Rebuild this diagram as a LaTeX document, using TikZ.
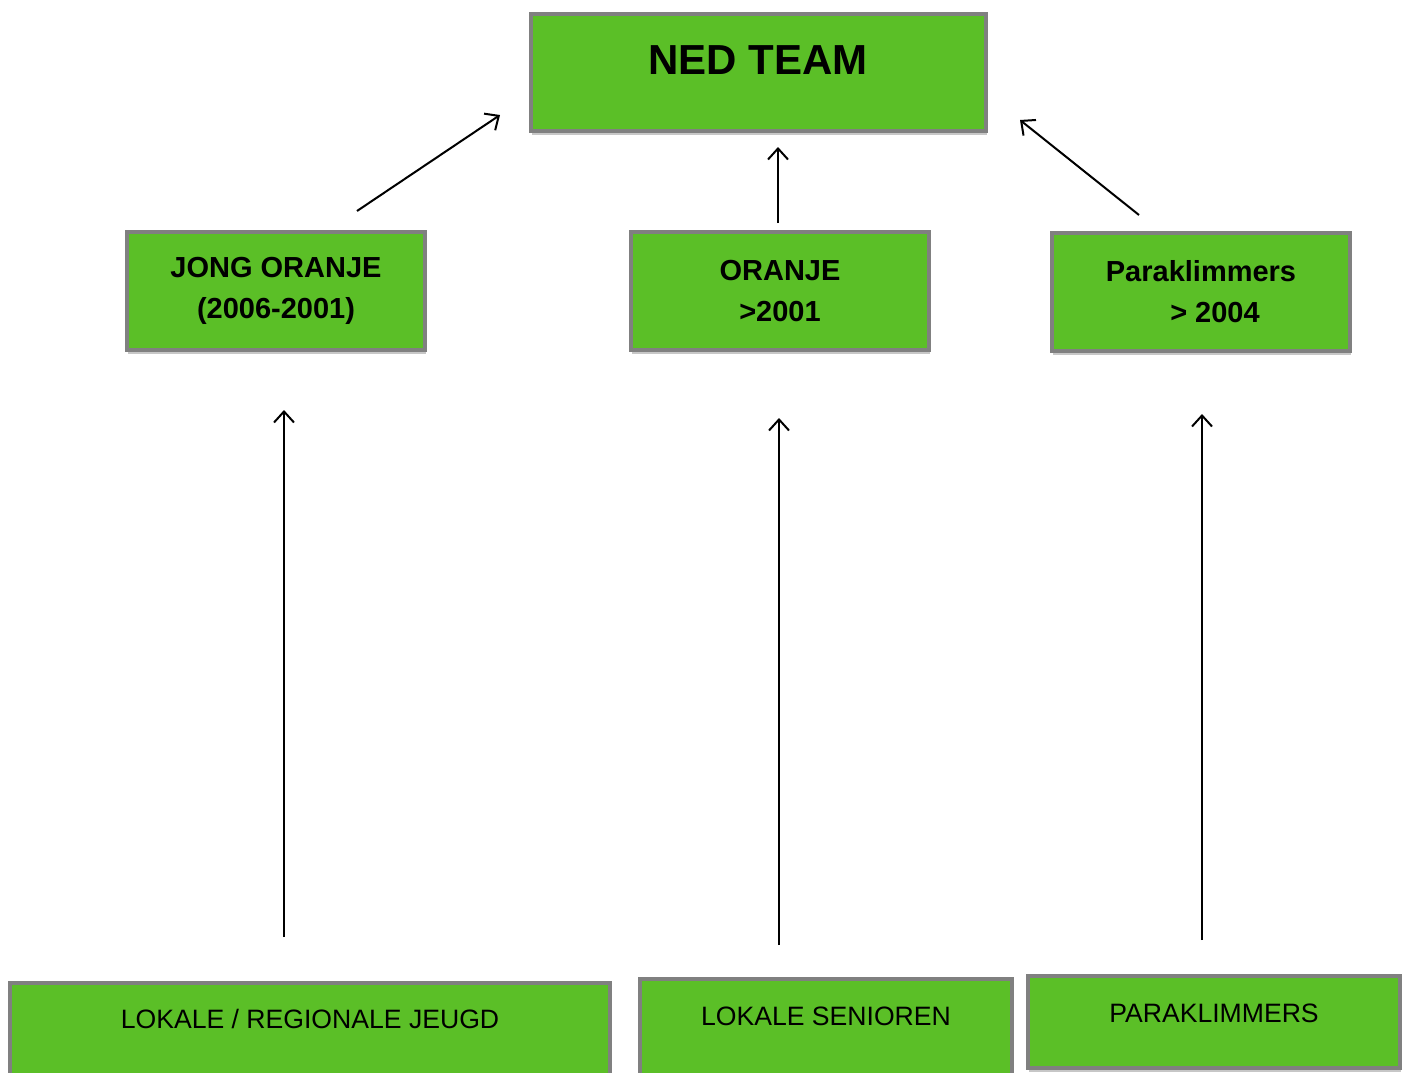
\documentclass[tikz,border=0pt]{standalone}
\usepackage{fontspec}
\setmainfont{Liberation Sans}
\usetikzlibrary{arrows.meta,shadows}
\definecolor{boxgreen}{HTML}{5BBF27}
\definecolor{boxgray}{HTML}{808080}
\tikzset{
  box/.style={draw=boxgray, line width=2pt, fill=boxgreen, rectangle, inner sep=0pt,
    drop shadow={shadow xshift=0.6pt, shadow yshift=-2pt, opacity=0.22, fill=black}},
  midtext/.style={font=\fontsize{14.5pt}{20.5pt}\selectfont\bfseries, align=center},
  bottext/.style={font=\fontsize{13.3pt}{16pt}\selectfont, anchor=base},
  arr/.style={line width=1pt, -{Straight Barb[length=5.5pt,width=10pt,line width=1pt]}}
}
\begin{document}
\begin{tikzpicture}[x=0.5pt,y=-0.5pt]
\useasboundingbox (0,0) rectangle (1408,1072);
\clip (0,0) rectangle (1408,1072);
% top
\node[box, minimum width=227.5pt, minimum height=58.5pt] (ned) at (758.5,72.5) {};
\node[font=\fontsize{21pt}{25pt}\selectfont\bfseries, anchor=base] (nedtext) at (758,74) {NED TEAM};
% middle
\node[box, minimum width=149pt, minimum height=59pt, midtext] (jong) at (276,291) {JONG ORANJE\\(2006-2001)};
\node[box, minimum width=149pt, minimum height=59pt, midtext] (oranje) at (780,291) {ORANJE\\>2001};
\node[box, minimum width=149pt, minimum height=59pt, midtext] (para) at (1201,292) {Paraklimmers\\\hspace*{14pt}> 2004};
% bottom
\node[box, minimum width=300pt, minimum height=60pt] (lok1) at (310,1043) {};
\node[bottext] (lok1text) at (310,1028) {LOKALE / REGIONALE JEUGD};
\node[box, minimum width=186pt, minimum height=60pt] (lok2) at (826,1039) {};
\node[bottext] (lok2text) at (826,1025) {LOKALE SENIOREN};
\node[box, minimum width=186pt, minimum height=46pt] (lok3) at (1214,1022) {};
\node[bottext] (lok3text) at (1214,1022) {PARAKLIMMERS};
% arrow ends
\coordinate (a1s) at (357,211); \coordinate (a1e) at (500,115);
\coordinate (a2s) at (778,223); \coordinate (a2e) at (778,147);
\coordinate (a3s) at (1139,215); \coordinate (a3e) at (1020,120);
\coordinate (b1s) at (284,937); \coordinate (b1e) at (284,410);
\coordinate (b2s) at (779,945); \coordinate (b2e) at (779,418);
\coordinate (b3s) at (1202,940); \coordinate (b3e) at (1202,414);
\draw[arr] (a1s) -- (a1e);
\draw[arr] (a2s) -- (a2e);
\draw[arr] (a3s) -- (a3e);
\draw[arr] (b1s) -- (b1e);
\draw[arr] (b2s) -- (b2e);
\draw[arr] (b3s) -- (b3e);
\end{tikzpicture}
\end{document}
